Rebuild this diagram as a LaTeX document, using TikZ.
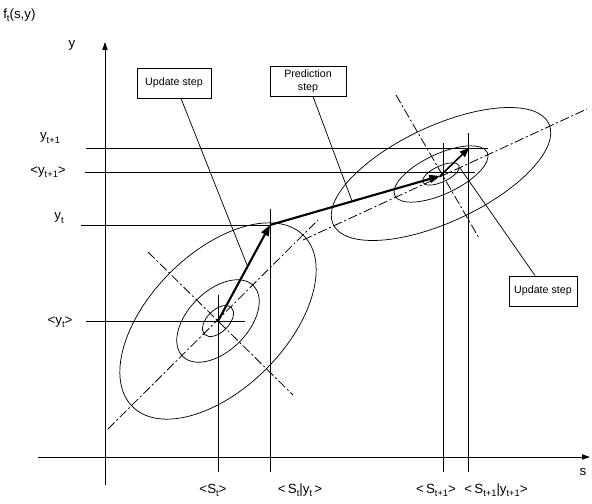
\documentclass[tikz,border=0pt]{standalone}
\usepackage{fontspec}
\setmainfont{Liberation Sans}
\usetikzlibrary{arrows.meta}
\newcommand{\lowsub}[1]{\raisebox{-0.45ex}{\fontsize{7}{7}\selectfont #1}}
\begin{document}
\begin{tikzpicture}[x=0.75pt,y=-0.75pt,
  lbl/.style={font=\fontsize{10}{11}\selectfont, inner sep=0pt},
  boxnode/.style={draw, line width=0.7pt, font=\fontsize{8}{9.5}\selectfont, align=center, inner sep=0pt},
  guide/.style={line width=0.75pt},
  leader/.style={line width=0.55pt},
  ell/.style={line width=0.55pt},
  dd/.style={line width=0.6pt, dash pattern=on 7pt off 2pt on 1.5pt off 2pt},
  axisarrow/.style={line width=0.75pt, -{Triangle[length=6pt,width=4pt]}},
  bigarrow/.style={line width=1.6pt, -{Triangle[length=8pt,width=6pt]}},
  midarrow/.style={line width=1.2pt, -{Triangle[length=7pt,width=5.5pt]}},
]
\useasboundingbox (0,0) rectangle (592,503);

% key points
\coordinate (O1) at (218,321);
\coordinate (U1) at (270,225);
\coordinate (P2) at (440,176);
\coordinate (U2) at (469,148);
\coordinate (C2) at (441,174);

% axes
\coordinate (ya0) at (105,485);
\coordinate (ya1) at (105,42);
\coordinate (xa0) at (38,457);
\coordinate (xa1) at (590,457);
\draw[axisarrow] (ya0) -- (ya1);
\draw[axisarrow] (xa0) -- (xa1);

% guide lines
\draw[guide] (86,148) -- (488,148);
\draw[guide] (85,172) -- (475,172);
\draw[guide] (81,225) -- (U1);
\draw[guide] (86,321) -- (245,321);
\draw[guide] (218,295) -- (218,472);
\draw[guide] (270,209) -- (270,472);
\draw[guide] (443,143) -- (443,472);
\draw[guide] (468,133) -- (468,472);

% left ellipses
\draw[ell, rotate around={45:(O1)}] (O1) ellipse [x radius=90.75pt, y radius=51pt];
\draw[ell, rotate around={45:(O1)}] (O1) ellipse [x radius=37.5pt, y radius=22.5pt];
\draw[ell, rotate around={45:(O1)}] (O1) ellipse [x radius=14.25pt, y radius=8.25pt];

% right ellipses
\draw[ell, rotate around={25:(C2)}] (C2) ellipse [x radius=89.25pt, y radius=36pt];
\draw[ell, rotate around={25:(C2)}] (C2) ellipse [x radius=38.25pt, y radius=15pt];
\draw[ell, rotate around={25:(C2)}] (C2) ellipse [x radius=15pt, y radius=6pt];

% dash-dot principal axes
\draw[dd] (108,429) -- (318,220);
\draw[dd] (148,252) -- (293,395);
\draw[dd] (303,240) -- (587,109);
\draw[dd] (396,95) -- (479,238);

% step arrows
\draw[bigarrow] (O1) -- (U1);
\draw[bigarrow] (U1) -- (P2);
\draw[midarrow] (P2) -- (U2);

% boxes
\node[boxnode, minimum width=55.5pt, minimum height=22.5pt] (ub1) at (174,83) {Update step};
\node[boxnode, minimum width=57pt, minimum height=22.5pt] (pb) at (308,81) {Prediction\\step};
\node[boxnode, minimum width=51pt, minimum height=22.5pt] (ub2) at (543,291) {Update step};

% leaders
\coordinate (L1) at (247,265);
\coordinate (L2) at (352,201);
\coordinate (L3) at (460,168);
\draw[leader] ([xshift=5.25pt]ub1.south) -- (L1);
\draw[leader] ([xshift=3.75pt]pb.south) -- (L2);
\draw[leader] ([xshift=-6pt]ub2.north) -- (L3);

% labels
\node[lbl, anchor=west] (fl) at (3,15) {f\lowsub{t}(s,y)};
\node[lbl] (yl) at (72,45) {y};
\node[lbl] (sl) at (583,472) {s};
\node[lbl] (y1) at (50,138) {y\lowsub{t+1}};
\node[lbl] (ey1) at (48,172) {<y\lowsub{t+1}>};
\node[lbl] (y0) at (59,218) {y\lowsub{t}};
\node[lbl] (ey0) at (60,322) {<y\lowsub{t}>};
\node[lbl] (s0) at (213,490) {<S\lowsub{t}>};
\node[lbl] (s0y) at (300,490) {<\,S\lowsub{t}|y\lowsub{t}\,>};
\node[lbl] (s1) at (436,490) {<\,S\lowsub{t+1}>};
\node[lbl] (s1y) at (496,490) {<\,S\lowsub{t+1}|y\lowsub{t+1}>};
\end{tikzpicture}
\end{document}
